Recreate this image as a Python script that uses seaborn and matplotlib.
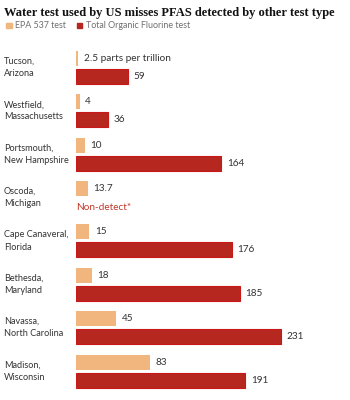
import numpy as np
import pandas as pd
import matplotlib
matplotlib.use("Agg")
import matplotlib.pyplot as plt
import matplotlib.patches as mpatches
import seaborn as sns

# data
cities = ["Tucson,\nArizona", "Westfield,\nMassachusetts", "Portsmouth,\nNew Hampshire",
          "Oscoda,\nMichigan", "Cape Canaveral,\nFlorida", "Bethesda,\nMaryland",
          "Navassa,\nNorth Carolina", "Madison,\nWisconsin"]
epa_537 = [2.5, 4, 10, 13.7, 15, 18, 45, 83]
tof = [59, 36, 164, np.nan, 176, 185, 231, 191]
series = ["EPA 537 test", "Total Organic Fluorine test"]

ORANGE = "#f0b67e"
RED = "#b5271f"
RED_EDGE = "#c81818"
TEXT = "#333333"

df = pd.DataFrame({"city": cities, series[0]: epa_537, series[1]: tof})
long = df.melt(id_vars="city", var_name="test", value_name="value")
long["value"] = long["value"].fillna(0)  # non-detect drawn as empty bar

sns.set_theme(style="white")
plt.rcParams["font.family"] = ["Lato", "DejaVu Sans"]

W, H = 350, 400
fig = plt.figure(figsize=(W / 100, H / 100), dpi=100)
ax = fig.add_axes([76 / W, 7.3 / H, 269 / W, 346.9 / H])

sns.barplot(data=long, y="city", x="value", hue="test", hue_order=series,
            palette=[ORANGE, RED], saturation=1, orient="h", width=0.83, gap=0.167,
            legend=False, ax=ax)

ax.set_xlim(0, 303.3)
ax.set_ylim(7.5, -0.5)
for c, cont in enumerate(ax.containers):
    for p in cont:
        if c == 1 and p.get_width() > 0:
            p.set_edgecolor(RED_EDGE)
            p.set_linewidth(0.8)
        else:
            p.set_edgecolor("none")

# value labels
lab0 = ["2.5 parts per trillion"] + [f"{v:g}" for v in epa_537[1:]]
lab1 = ["" if np.isnan(v) else f"{v:g}" for v in tof]
ax.bar_label(ax.containers[0], labels=lab0, padding=4, fontsize=7.2, color=TEXT)
ax.bar_label(ax.containers[1], labels=lab1, padding=4, fontsize=7.2, color=TEXT)

# non-detect note
for i, v in enumerate(tof):
    if np.isnan(v):
        ax.text(0, i + 0.22, "Non-detect*", color="#c0392b", fontsize=7.2,
                va="center", ha="left")

# city labels
trans = matplotlib.transforms.blended_transform_factory(fig.transFigure, ax.transData)
for i, name in enumerate(cities):
    ax.text(4 / W, i, name, transform=trans, fontsize=6.6, color=TEXT,
            va="center", ha="left", linespacing=1.45)

ax.set_xlabel("")
ax.set_ylabel("")
ax.set_xticks([])
ax.set_yticks([])
sns.despine(ax=ax, left=True, bottom=True)

fig.text(4 / W, 1 - 13 / H, "Water test used by US misses PFAS detected by other test type",
         fontsize=9.0, fontweight="bold", family=["Liberation Serif", "DejaVu Serif"],
         color="#121212", va="center", ha="left")

handles = [mpatches.Patch(color=ORANGE, label=series[0]),
           mpatches.Patch(color=RED, label=series[1])]
fig.legend(handles=handles, loc="center left", bbox_to_anchor=(0, 1 - 26 / H),
           ncol=2, frameon=False, fontsize=6.4, handlelength=0.6, handleheight=0.6,
           handletextpad=0.4, columnspacing=1.2, labelcolor="#707070", borderaxespad=0.3)

fig.savefig("out.png", dpi=100)
